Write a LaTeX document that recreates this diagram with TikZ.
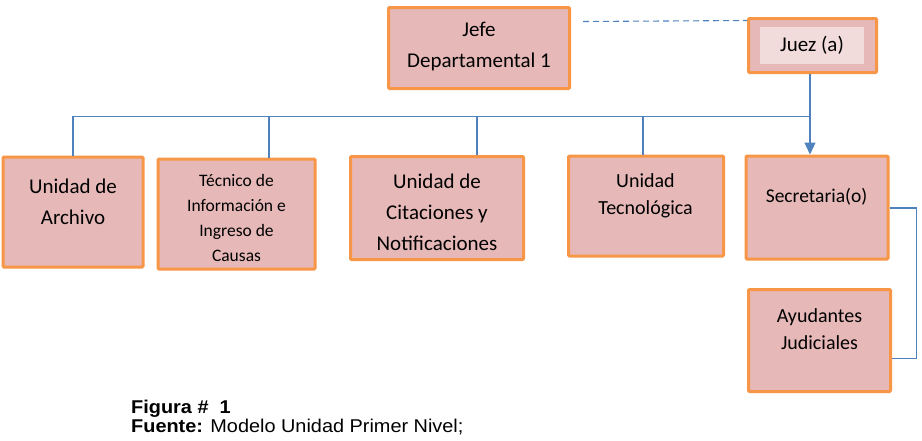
\documentclass[tikz,border=0pt]{standalone}
\usepackage{fontspec}
\setmainfont{Carlito}
\newfontfamily\capfont{Liberation Sans}
\usetikzlibrary{arrows.meta}
\definecolor{boxfill}{HTML}{E6B9B8}
\definecolor{boxline}{HTML}{F79646}
\definecolor{innerfill}{HTML}{F2DCDB}
\definecolor{conn}{HTML}{4F81BD}
\begin{document}
\begin{tikzpicture}[x=1pt,y=-1pt,
  orgbox/.style={draw=boxline,fill=boxfill,line width=3pt,rounded corners=1pt,inner sep=0pt},
  big/.style={font=\fontsize{21}{31}\selectfont,align=center,inner sep=0pt},
  mid/.style={font=\fontsize{20}{27}\selectfont,align=center,inner sep=0pt},
  small/.style={font=\fontsize{17.5}{25}\selectfont,align=center,inner sep=0pt},
  link/.style={draw=conn,line width=1.3pt},
  captxt/.style={font=\capfont\fontsize{18.5}{18}\selectfont,anchor=west,inner sep=0pt,xscale=1.075}]
\useasboundingbox (0,0) rectangle (922,440);
% boxes
\node[orgbox,minimum width=181pt,minimum height=81pt] (jefe) at (479,48) {};
\node[orgbox,minimum width=128pt,minimum height=54pt] (juez) at (812.5,45.5) {};
\node[fill=innerfill,minimum width=104pt,minimum height=37pt,inner sep=0pt] (juezin) at (812,45.5) {};
\node[orgbox,minimum width=140pt,minimum height=110pt] (arch) at (73,212) {};
\node[orgbox,minimum width=157pt,minimum height=110pt] (tec) at (236.5,214) {};
\node[orgbox,minimum width=173pt,minimum height=103pt] (cit) at (437,208) {};
\node[orgbox,minimum width=155pt,minimum height=100pt] (tecn) at (646,206) {};
\node[orgbox,minimum width=142pt,minimum height=103pt] (sec) at (817,207.5) {};
\node[orgbox,minimum width=142pt,minimum height=102pt] (ayu) at (819.5,340.5) {};
% texts
\node[big] (tjefe) at (479,46.5) {Jefe\\Departamental 1};
\node[big] (tjuez) at (812,45) {Juez (a)};
\node[big] (tarch) at (73,201.5) {Unidad de\\Archivo};
\node[small] (ttec) at (236.5,217.5) {Técnico de\\Información e\\Ingreso de\\Causas};
\node[big] (tcit) at (437,212.5) {Unidad de\\Citaciones y\\Notificaciones};
\node[mid] (ttecn) at (645.5,195.5) {Unidad\\Tecnológica};
\node[font=\fontsize{19.5}{25}\selectfont,inner sep=0pt] (tsec) at (816.5,197) {Secretaria(o)};
\node[mid] (tayu) at (819.5,329) {Ayudantes\\Judiciales};
% connectors
\coordinate (bus) at (810,116.5);
\draw[link] (juez.south -| bus) -- (bus) -- (bus -| arch.north) -- (arch.north);
\draw[link] (bus -| tec.north) ++(32.5,0) coordinate (tecup) -- ([xshift=32.5pt]tec.north);
\draw[link] (bus -| cit.north) ++(40,0) coordinate (citup) -- ([xshift=40pt]cit.north);
\draw[link] (bus -| tecn.north) ++(-3,0) coordinate (tecnup) -- ([xshift=-3pt]tecn.north);
\draw[link,-{Triangle[length=12pt,width=11pt]}] (bus) -- (bus |- sec.north);
\coordinate (rside) at (916.5,208);
\draw[link] (sec.east |- rside) -- (rside) -- (rside |- 0,358.5) -- (ayu.east |- 0,358.5);
\draw[draw=conn,line width=1.1pt,dash pattern=on 6pt off 4pt] (583,21.5) -- (juez.north west |- 0,20.5);
% caption
\node[captxt,font=\capfont\bfseries\fontsize{18.5}{18}\selectfont] (fig) at (131,409) {Figura \#\ \ 1};
\node[captxt] (fue) at (131,427) {\textbf{Fuente:} Modelo Unidad Primer Nivel;};
\end{tikzpicture}
\end{document}
